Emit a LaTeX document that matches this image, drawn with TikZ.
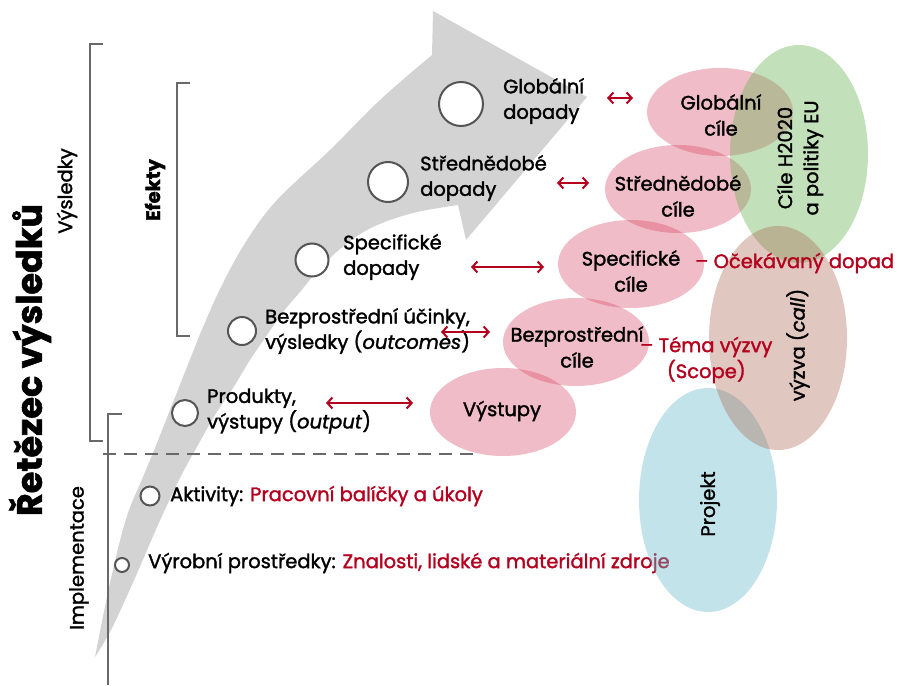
\documentclass[tikz,border=0pt]{standalone}
\usepackage{fontspec}
\setmainfont{Poppins}[FakeBold=1.6]
\usetikzlibrary{shapes.geometric,arrows.meta}
\definecolor{arrowgray}{RGB}{211,211,211}
\definecolor{ringgray}{RGB}{85,85,85}
\definecolor{linegray}{RGB}{105,105,105}
\definecolor{darkred}{RGB}{180,0,30}
\definecolor{pinkbase}{RGB}{214,70,100}
\definecolor{greenbase}{RGB}{110,180,90}
\definecolor{brownbase}{RGB}{170,100,80}
\definecolor{bluebase}{RGB}{100,185,200}

\begin{document}
\begin{tikzpicture}[x=1pt,y=-1pt,
  txt/.style={font=\fontsize{19.5}{25.5}\selectfont, inner sep=0pt, align=left, anchor=west},
  ctxt/.style={font=\fontsize{19.5}{26}\selectfont, inner sep=0pt, align=center},
  vlabel/.style={font=\fontsize{19.5}{26}\selectfont, inner sep=0pt, rotate=90},
  ring/.style={circle, draw=ringgray, line width=2pt, fill=white, inner sep=0pt, minimum size=#1},
  goal/.style={ellipse, fill=pinkbase, fill opacity=0.36, draw=none, inner sep=0pt,
               minimum width=146pt, minimum height=88pt},
  blob/.style={ellipse, fill=#1, draw=none, inner sep=0pt, minimum width=138pt, minimum height=222pt},
  bracket/.style={draw=linegray, line width=2pt},
  link/.style={draw=darkred, line width=2pt, {Straight Barb[length=5pt,width=11pt]}-{Straight Barb[length=5pt,width=11pt]}},
  redtxt/.style={font=\fontsize{19.5}{26}\selectfont, inner sep=0pt, text=darkred}
]
\useasboundingbox (0,0) rectangle (907,685);

% curved progress arrow
\fill[arrowgray]
  plot[smooth, tension=0.6] coordinates {(95,657) (110,583) (126,519) (143,477) (157,443) (170,410)
     (187,367) (203,327) (223,283) (247,240) (277,200) (330,150) (380,100) (432,55)}
  -- (433,11) -- (587,97) -- (466,240) -- (458,205)
  -- plot[smooth, tension=0.6] coordinates {(458,205) (413,213) (373,227) (345,245) (320,268)
     (300,292) (283,312) (265,338) (250,360) (233,388) (215,415) (198,445) (180,478)
     (158,525) (135,578) (112,628) (95,657)}
  -- cycle;

% brackets
\draw[bracket] (103,44) -- (90,44) -- (90,441) -- (103,441);
\draw[bracket] (190,83) -- (177,83) -- (177,336) -- (190,336);
\draw[bracket] (122,414) -- (108,414) -- (108,685);
\draw[draw=linegray, line width=1.8pt, dash pattern=on 13pt off 8pt] (103,454) -- (476,454);

% side labels
\node[vlabel, font=\bfseries\fontsize{35}{40}\selectfont] (chain) at (30,360) {Řetězec výsledků};
\node[vlabel] (vys) at (67,191) {Výsledky};
\node[vlabel, font=\bfseries\fontsize{19.5}{26}\selectfont] (efk) at (155,190) {Efekty};
\node[vlabel] (impl) at (79,558) {Implementace};

% steps on the arrow
\node[ring=44pt] (c1) at (461,104) {};
\node[ring=40pt] (c2) at (388,182) {};
\node[ring=33pt] (c3) at (312,260) {};
\node[ring=28pt] (c4) at (242,331) {};
\node[ring=26pt] (c5) at (185,413) {};
\node[ring=19pt] (c6) at (150,496) {};
\node[ring=14pt] (c7) at (122,565) {};

\node[txt] (gd) at (503,101) {Globální\\dopady};
\node[txt] (sd) at (420,178) {Střednědobé\\dopady};
\node[txt] (spd) at (343,257) {Specifické\\dopady};
\node[txt] (bd) at (265,331) {Bezprostřední účinky,\\výsledky (\textit{outcomes})};
\node[txt] (pd) at (207,411) {Produkty,\\výstupy (\textit{output})};
\node[txt] (ak) at (170,496) {Aktivity: \textcolor{darkred}{Pracovní balíčky a úkoly}};
\node[txt] (vp) at (148,563) {Výrobní prostředky: \textcolor{darkred}{Znalosti, lidské a materiální zdroje}};

% goals
\node[goal] (g1) at (720,112) {};
\node[goal] (g2) at (678,189) {};
\node[goal] (g3) at (631,264) {};
\node[goal] (g4) at (576,342) {};
\node[goal] (g5) at (503,412) {};

% policy, call and project
\node[blob={greenbase}, fill opacity=0.42, minimum width=138pt, minimum height=218pt] (eu) at (799,154) {};
\node[blob={bluebase}, fill opacity=0.40, minimum width=138pt, minimum height=224pt] (proj) at (708,500) {};
\node[blob={brownbase}, fill opacity=0.36, minimum width=138pt, minimum height=224pt] (call) at (778,338) {};

\node[ctxt] at (721,115) {Globální\\cíle};
\node[ctxt] at (678,196) {Střednědobé\\cíle};
\node[ctxt] at (631,271) {Specifické\\cíle};
\node[ctxt] at (577,347) {Bezprostřední\\cíle};
\node[ctxt] at (502,411) {Výstupy};

\node[vlabel, align=center] (eut) at (800,158) {Cíle H2020\\a politiky EU};
\node[vlabel] (callt) at (798,345) {výzva (\textit{call})};
\node[vlabel] (projt) at (710,504) {Projekt};

\node[redtxt, anchor=west] (dop) at (695,263) {– Očekávaný dopad};
\node[redtxt, align=center, anchor=west] (scope) at (640,360) {– Téma výzvy\\(Scope)};

% links between impacts and goals
\coordinate (l1a) at (607,98);  \coordinate (l1b) at (633,98);
\coordinate (l2a) at (557,183); \coordinate (l2b) at (589,183);
\coordinate (l3a) at (471,267); \coordinate (l3b) at (544,267);
\coordinate (l4a) at (441,332); \coordinate (l4b) at (490,332);
\coordinate (l5a) at (326,403); \coordinate (l5b) at (413,403);
\draw[link] (l1a) -- (l1b);
\draw[link] (l2a) -- (l2b);
\draw[link] (l3a) -- (l3b);
\draw[link] (l4a) -- (l4b);
\draw[link] (l5a) -- (l5b);
\end{tikzpicture}
\end{document}
